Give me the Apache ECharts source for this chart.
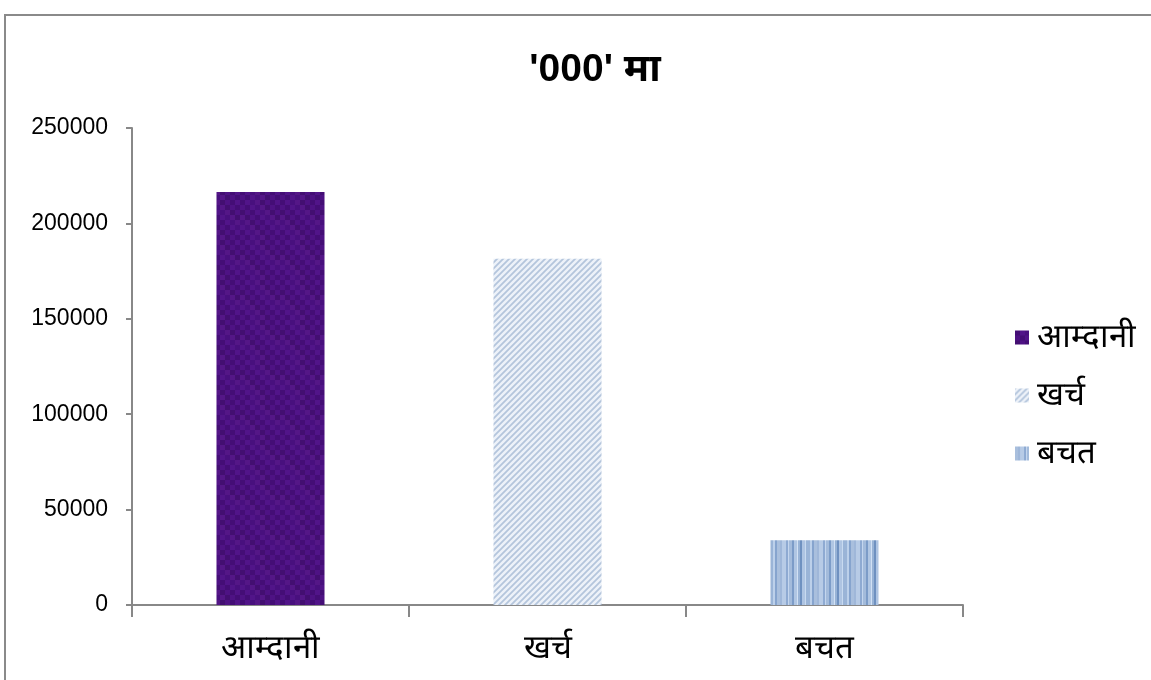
<!DOCTYPE html>
<html>
<head>
<meta charset="utf-8">
<script src="https://cdn.jsdelivr.net/npm/echarts@6/dist/echarts.min.js"></script>
<style>
html,body{margin:0;padding:0;background:#fff;}
#chart{width:1151px;height:680px;}
</style>
</head>
<body>
<div id="chart"></div>
<script>
// ---- data ----
var titleText = "'000' मा";
var categories = ['आम्दानी', 'खर्च', 'बचत'];
var values = [216500, 181500, 34000];
var yMin = 0, yMax = 250000, yInterval = 50000;

// ---- fill patterns (style only) ----
function purplePattern() {
  var c = document.createElement('canvas'); c.width = 40; c.height = 40;
  var g = c.getContext('2d');
  g.fillStyle = '#4b1080'; g.fillRect(0, 0, 40, 40);
  var shades = ['#3e0b6c', '#581892', '#46107c', '#5d1c8e', '#3b0d62', '#521488'];
  var k = 0;
  for (var y = 0; y < 40; y += 5) {
    for (var x = 0; x < 40; x += 5) {
      g.fillStyle = shades[(k * 7 + (y / 5) * 3) % shades.length];
      g.globalAlpha = 0.5;
      g.fillRect(x, y, 5, 5);
      k++;
    }
  }
  g.globalAlpha = 1;
  return c;
}
function hatchPattern() {
  var c = document.createElement('canvas'); c.width = 6; c.height = 6;
  var g = c.getContext('2d');
  g.fillStyle = '#edf2f9'; g.fillRect(0, 0, 6, 6);
  g.strokeStyle = '#b4c5dc'; g.lineWidth = 1.8;
  g.beginPath();
  g.moveTo(-2, 8); g.lineTo(8, -2);
  g.moveTo(-5, 5); g.lineTo(5, -5);
  g.moveTo(1, 11); g.lineTo(11, 1);
  g.stroke();
  return c;
}
function stripePattern() {
  var cols = ['#a9bfdd','#9fb7d9','#b7cbe6','#8eaad2','#c4d6ee','#a3bbdb','#7c9cc8','#b0c6e3','#d2e1f4','#98b3d6','#6f91c0','#aec4e2','#c8daf0','#9ab4d7','#bcd0ea','#86a4ce'];
  var ws = [3,2,4,2,1,3,2,3,1,2,2,3,1,4,2,2];
  var total = 0; for (var i = 0; i < ws.length; i++) total += ws[i];
  var c = document.createElement('canvas'); c.width = total; c.height = 4;
  var g = c.getContext('2d'); var x = 0;
  for (var j = 0; j < ws.length; j++) { g.fillStyle = cols[j]; g.fillRect(x, 0, ws[j], 4); x += ws[j]; }
  return c;
}
var fills = [
  { image: purplePattern(), repeat: 'repeat' },
  { image: hatchPattern(), repeat: 'repeat' },
  { image: stripePattern(), repeat: 'repeat' }
];

var series = categories.map(function (name, i) {
  var d = categories.map(function (c, j) { return j === i ? values[i] : '-'; });
  return {
    name: name, type: 'bar', stack: 'all', data: d, barWidth: 108,
    itemStyle: { color: fills[i] }
  };
});

var chart = echarts.init(document.getElementById('chart'));
chart.setOption({
  animation: false,
  backgroundColor: '#fff',
  title: {
    text: titleText, left: 590, top: 46, textAlign: 'center',
    textStyle: { fontFamily: 'Liberation Sans, Noto Sans, sans-serif', fontSize: 39, fontWeight: 'bold', color: '#000' }
  },
  legend: {
    orient: 'vertical', left: 1010, top: 316, itemGap: 25,
    itemWidth: 14, itemHeight: 14, icon: 'rect',
    textStyle: { fontSize: 33, color: '#000', padding: [0, 0, 0, 3] },
    data: categories
  },
  grid: { left: 132, right: 188, top: 128, bottom: 75, containLabel: false },
  xAxis: {
    type: 'category', data: categories,
    axisLine: { lineStyle: { color: '#888', width: 2 } },
    axisTick: { show: true, length: 12, lineStyle: { color: '#888', width: 2 } },
    axisLabel: { fontSize: 33, color: '#000', margin: 27 }
  },
  yAxis: {
    type: 'value', min: yMin, max: yMax, interval: yInterval,
    axisLine: { show: true, lineStyle: { color: '#888', width: 2 } },
    axisTick: { show: true, length: 6, lineStyle: { color: '#888', width: 2 } },
    splitLine: { show: false },
    axisLabel: { fontSize: 23, color: '#000', margin: 24, fontFamily: 'Liberation Sans, sans-serif',
      formatter: function (v) { return String(v); } }
  },
  graphic: [{
    type: 'rect', shape: { x: 5, y: 15, width: 1160, height: 700 },
    style: { fill: 'none', stroke: '#8a8a8a', lineWidth: 2 }, silent: true
  }],
  series: series
});
</script>
</body>
</html>
